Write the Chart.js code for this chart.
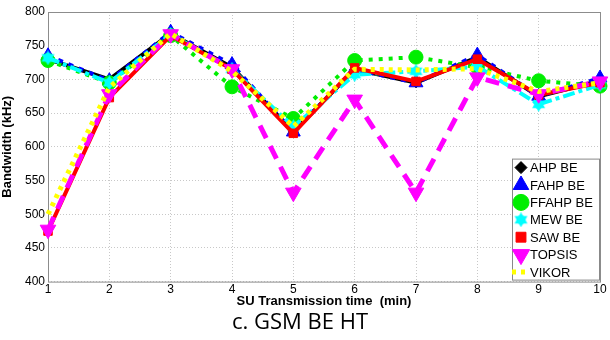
<!DOCTYPE html>
<html>
<head>
<meta charset="utf-8">
<script src="https://cdn.jsdelivr.net/npm/chart.js@4/dist/chart.umd.min.js"></script>
<style>
  html, body { margin: 0; padding: 0; background: #fff; }
  #wrap { width: 610px; height: 340px; }
</style>
</head>
<body>
<div id="wrap"><canvas id="bwChart" width="610" height="340"></canvas></div>
<script>
// x axis: SU transmission time (min)
const times = [1, 2, 3, 4, 5, 6, 7, 8, 9, 10];
const yTicks = [400, 450, 500, 550, 600, 650, 700, 750, 800];

// bandwidth values (kHz)
const ahpBE    = [730, 700, 768, 718, 622, 715, 695, 733, 675, 698];
const fahpBE   = [735, 698, 770, 722, 622, 715, 695, 736, 675, 702];
const ffahpBE  = [728, 695, 765, 689, 642, 728, 733, 718, 698, 690];
const mewBE    = [732, 695, 767, 715, 630, 707, 712, 719, 663, 692];
const sawBE    = [475, 673, 765, 715, 620, 717, 697, 730, 677, 695];
const topsis   = [477, 678, 767, 715, 532, 670, 532, 703, 678, 697];
const vikor    = [500, 688, 768, 712, 630, 715, 714, 716, 682, 695];

// hexagram marker for MEW
function makeHexagram(size, color) {
    const c = document.createElement('canvas');
    c.width = size; c.height = size;
    const g = c.getContext('2d');
    const r = size / 2;
    g.fillStyle = color;
    [0, Math.PI].forEach(off => {
        g.beginPath();
        for (let i = 0; i < 3; i++) {
            const a = off - Math.PI / 2 + i * 2 * Math.PI / 3;
            const px = r + r * Math.cos(a), py = r + r * Math.sin(a);
            if (i === 0) g.moveTo(px, py); else g.lineTo(px, py);
        }
        g.closePath();
        g.fill();
    });
    g.beginPath();
    g.arc(r, r, r * 0.62, 0, Math.PI * 2);
    g.fill();
    return c;
}
const hexMarker = makeHexagram(15, '#00ffff');

function series(label, values, color, opts) {
    return Object.assign({
        label: label,
        data: values.map((v, i) => ({ x: times[i], y: v })),
        borderColor: color,
        backgroundColor: color,
        pointBackgroundColor: color,
        pointBorderColor: color,
        borderWidth: 4,
        pointBorderWidth: 1,
        tension: 0,
        fill: false,
        clip: false
    }, opts);
}

const datasets = [
    series('AHP BE', ahpBE, '#000000', { pointStyle: 'rectRot', pointRadius: 5, order: 6 }),
    series('FAHP BE', fahpBE, '#0000ff', { pointStyle: 'triangle', pointRadius: 8, borderDash: [5, 6], order: 5 }),
    series('FFAHP BE', ffahpBE, '#00ee00', { pointStyle: 'circle', pointRadius: 7, borderDash: [4, 6], order: 4 }),
    series('MEW BE', mewBE, '#00ffff', { pointStyle: hexMarker, pointRadius: 7, borderDash: [12, 4, 4, 4], order: 3 }),
    series('SAW BE', sawBE, '#ff0000', { pointStyle: 'rect', pointRadius: 6, order: 2 }),
    series('TOPSIS', topsis, '#ff00ff', { pointStyle: 'triangle', pointRotation: 180, pointRadius: 9, borderWidth: 5, borderDash: [14, 9], order: 1 }),
    series('VIKOR', vikor, '#ffff00', { pointRadius: 0, borderWidth: 5, borderDash: [4, 5], order: 0 })
];

// legend box drawn inside the plot, bottom right
const insideLegend = {
    id: 'insideLegend',
    afterDraw(chart) {
        const ctx = chart.ctx;
        const area = chart.chartArea;
        const w = 87, rowH = 17.4, h = 121;
        const x0 = area.right - w - 1, y0 = area.bottom - h - 2;
        ctx.save();
        ctx.fillStyle = '#fff';
        ctx.strokeStyle = '#888';
        ctx.lineWidth = 1;
        ctx.fillRect(x0, y0, w, h);
        ctx.strokeRect(x0 + 0.5, y0 + 0.5, w, h);
        ctx.font = '13px "Liberation Sans", Arial, sans-serif';
        ctx.textBaseline = 'middle';
        chart.data.datasets.forEach((ds, i) => {
            const cy = y0 + 9 + i * rowH;
            const mx = x0 + 9;
            if (ds.pointRadius > 0) {
                ctx.fillStyle = ds.pointBackgroundColor;
                ctx.strokeStyle = ds.pointBorderColor;
                Chart.helpers.drawPoint(ctx, {
                    pointStyle: ds.pointStyle,
                    radius: ds.pointRadius + 1,
                    rotation: ds.pointRotation || 0,
                    borderWidth: 1
                }, mx, cy);
            } else {
                ctx.strokeStyle = ds.borderColor;
                ctx.lineWidth = 5;
                ctx.setLineDash([4, 5]);
                ctx.beginPath();
                ctx.moveTo(mx - 9, cy);
                ctx.lineTo(mx + 9, cy);
                ctx.stroke();
                ctx.setLineDash([]);
                ctx.lineWidth = 1;
            }
            ctx.fillStyle = '#000';
            ctx.fillText(ds.label, x0 + 18, cy + 1);
        });
        ctx.restore();
    }
};

// box around the plot area
const plotBox = {
    id: 'plotBox',
    beforeDatasetsDraw(chart) {
        const a = chart.chartArea, ctx = chart.ctx;
        ctx.save();
        ctx.strokeStyle = '#8c8c8c';
        ctx.lineWidth = 1;
        ctx.strokeRect(a.left + 0.5, a.top + 0.5, a.right - a.left, a.bottom - a.top);
        ctx.restore();
    }
};

const tickFont = { family: '"Liberation Sans", Arial, sans-serif', size: 12 };

new Chart(document.getElementById('bwChart'), {
    type: 'line',
    data: { datasets: datasets },
    plugins: [plotBox, insideLegend],
    options: {
        responsive: false,
        animation: false,
        layout: { padding: { top: 12, right: 10, bottom: 4, left: 0 } },
        plugins: {
            legend: { display: false },
            tooltip: { enabled: false },
            title: {
                display: true,
                position: 'bottom',
                text: 'c. GSM BE HT',
                color: '#000',
                font: { family: '"Open Sans", "Noto Sans", sans-serif', size: 22, weight: 'normal' },
                padding: { top: 0, bottom: 0 }
            }
        },
        scales: {
            x: {
                type: 'linear',
                min: 1, max: 10,
                afterBuildTicks(scale) { scale.ticks = times.map(v => ({ value: v })); },
                afterFit(scale) { scale.height = 28; },
                grid: { color: '#c8c8c8', lineWidth: 1, tickLength: 0 },
                border: { display: false, dash: [1, 2] },
                ticks: { color: '#000', font: tickFont, padding: 1, maxRotation: 0, autoSkip: false },
                title: {
                    display: true,
                    text: 'SU Transmission time  (min)',
                    color: '#000',
                    font: { family: '"Liberation Sans", Arial, sans-serif', size: 13, weight: 'bold' },
                    padding: { top: -3, bottom: 0 }
                }
            },
            y: {
                type: 'linear',
                min: 400, max: 800,
                afterBuildTicks(scale) { scale.ticks = yTicks.map(v => ({ value: v })); },
                afterFit(scale) { scale.width = 48; },
                grid: { color: '#c8c8c8', lineWidth: 1, tickLength: 0 },
                border: { display: false, dash: [1, 2] },
                ticks: { color: '#000', font: tickFont, padding: 3 },
                title: {
                    display: true,
                    text: 'Bandwidth (kHz)',
                    color: '#000',
                    font: { family: '"Liberation Sans", Arial, sans-serif', size: 13, weight: 'bold' },
                    padding: { top: 0, bottom: 2 }
                }
            }
        }
    }
});
</script>
</body>
</html>
